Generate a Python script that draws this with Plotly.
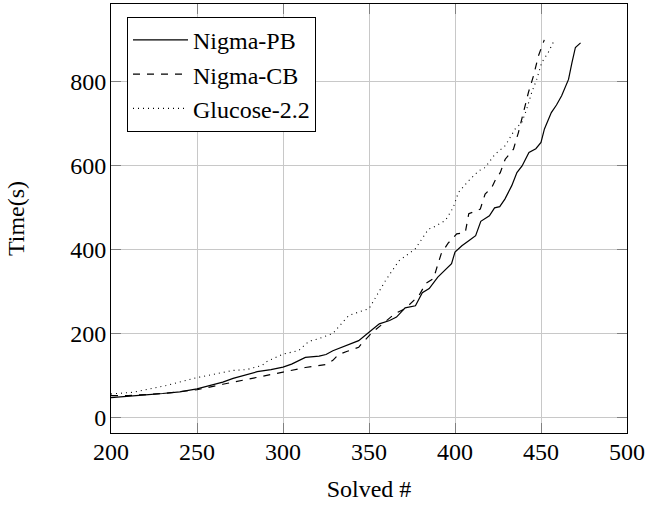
import plotly.graph_objects as go

# Nigma-PB (solid)
pb_x = [200, 210, 220, 230, 240, 250, 257, 265, 271, 279, 285, 293, 300, 305, 313, 321, 325, 329, 336, 344,
        350, 356, 362, 366, 371, 377, 381, 385, 390, 394, 398, 400, 404, 408, 412, 415, 420, 423, 426, 429,
        433, 436, 439, 443, 447, 450, 452, 456, 459, 462, 466, 468, 470, 473]
pb_y = [48, 52, 55, 58, 62, 69, 77, 85, 94, 103, 110, 115, 121, 128, 144, 147, 151, 160, 172, 184,
        204, 224, 232, 240, 262, 267, 298, 308, 335, 351, 367, 395, 410, 422, 434, 468, 481, 500, 503, 521,
        553, 584, 600, 632, 641, 656, 688, 727, 745, 767, 806, 846, 882, 893]

# Nigma-CB (dashed)
cb_x = [200, 210, 230, 250, 265, 279, 290, 300, 313, 325, 329, 332, 337, 344, 346, 350, 352, 358, 365, 371,
        379, 383, 387.6, 389, 392, 396, 400, 401, 404, 406, 408, 412, 414.7, 417.5, 421.4, 423.3, 426.3, 429.2,
        434, 436.9, 439.8, 442.7, 445.6, 448.5, 451.9]
cb_y = [53, 53, 58, 67, 80, 91, 100, 109, 120, 127, 137, 150, 158, 168, 178, 195, 204, 224, 248, 260,
        291, 320, 332, 352, 391, 416, 434, 438, 440, 442, 486, 493, 497, 533, 549, 565, 584, 616,
        640, 680, 727, 775, 814, 862, 900]

# Glucose-2.2 (dotted)
gl_x = [200, 213, 232, 250, 260, 271, 279, 288, 290, 300, 309, 315, 321, 329, 336.5, 338.4, 344, 350, 359.6,
        367.4, 376.8, 384.7, 386.6, 392.4, 394.4, 399, 400, 402, 408, 413.7, 417.5, 421.4, 423.3, 429.2, 435,
        438.8, 441.7, 444.6, 447.5, 450.4, 454.2, 458.1]
gl_y = [57, 61, 77, 96, 104, 113, 115, 125, 133, 152, 160, 182, 189, 201, 236, 244, 252, 260, 327,
        374, 402, 450, 452, 466, 470, 501, 513, 537, 565, 588, 596, 616, 628, 648, 688,
        703, 735, 775, 806, 846, 870, 902]

x_ticks = [200, 250, 300, 350, 400, 450, 500]
y_ticks = [0, 200, 400, 600, 800]

FONT = "Liberation Serif, Times New Roman, DejaVu Serif, serif"
FS = 24

fig = go.Figure()
fig.add_trace(go.Scatter(x=pb_x, y=pb_y, mode="lines", name="Nigma-PB",
                         line=dict(color="black", width=1.2)))
fig.add_trace(go.Scatter(x=cb_x, y=cb_y, mode="lines", name="Nigma-CB",
                         line=dict(color="black", width=1.2, dash="7px,7px")))
fig.add_trace(go.Scatter(x=gl_x, y=gl_y, mode="lines", name="Glucose-2.2",
                         line=dict(color="black", width=1.1, dash="1px,4px")))

axis_common = dict(
    showgrid=True, gridcolor="#c8c8c8", gridwidth=1,
    showline=True, linecolor="black", linewidth=1, mirror="allticks",
    ticks="inside", ticklen=10, tickcolor="#808080", tickwidth=1,
    zeroline=False, tickfont=dict(family=FONT, size=FS, color="black"),
)

fig.update_layout(
    width=648, height=507,
    margin=dict(l=111, r=19, t=3, b=74),
    paper_bgcolor="white", plot_bgcolor="white",
    font=dict(family=FONT, size=FS, color="black"),
    xaxis=dict(range=[200, 500], tickvals=x_ticks, ticktext=[str(v) for v in x_ticks],
               ticklabelstandoff=-3,
               title=dict(text="Solved #", font=dict(family=FONT, size=FS), standoff=16),
               **axis_common),
    yaxis=dict(range=[-36, 985.5], tickvals=y_ticks, ticktext=[str(v) for v in y_ticks],
               ticklabelstandoff=-1,
               title=dict(text="Time(s)", font=dict(family=FONT, size=FS), standoff=38),
               **axis_common),
    legend=dict(x=0.031, y=0.97, xanchor="left", yanchor="top",
                bgcolor="white", bordercolor="black", borderwidth=1,
                itemwidth=55,
                font=dict(family=FONT, size=FS)),
    showlegend=True,
)

fig.write_html("out.html", config={"displayModeBar": False},
               post_script="document.body.style.margin='0';")
